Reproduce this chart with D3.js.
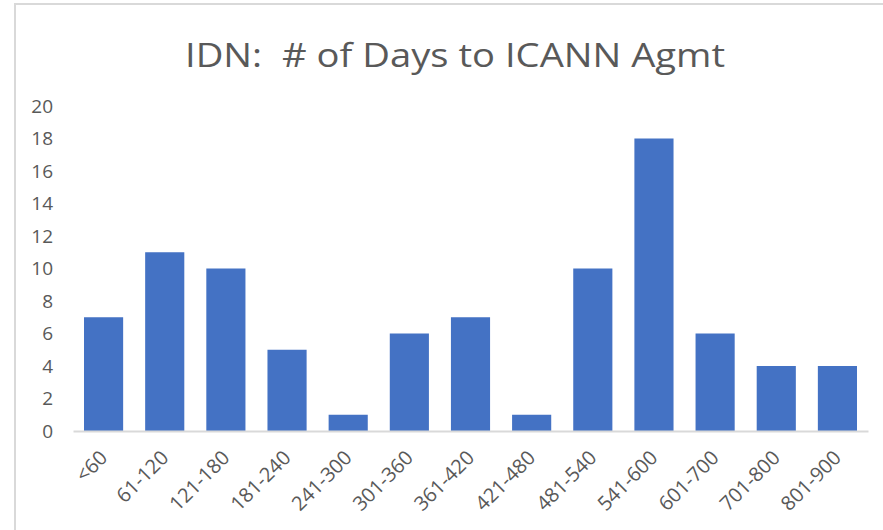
<!DOCTYPE html>
<html lang="en">
<head>
    <meta charset="UTF-8">
    <title>IDN: # of Days to ICANN Agmt</title>
    <script src="https://d3js.org/d3.v7.min.js"></script>
    <style type="text/css">
        body { margin: 0; background: #fff; }
        svg text { font-family: 'Open Sans', sans-serif; fill: #595959; }
    </style>
</head>
<body>
    <svg width="883" height="530"></svg>

    <script type="text/javascript">
        var categories = ["<60", "61-120", "121-180", "181-240", "241-300", "301-360", "361-420",
            "421-480", "481-540", "541-600", "601-700", "701-800", "801-900"];
        var counts = [7, 11, 10, 5, 1, 6, 7, 1, 10, 18, 6, 4, 4];
        var yTicks = [0, 2, 4, 6, 8, 10, 12, 14, 16, 18, 20];

        var svg = d3.select("svg"),
            margin = {top: 106, left: 73, right: 15, bottom: 99},
            width = 883 - margin.left - margin.right,
            height = 530 - margin.top - margin.bottom;

        // chart frame (top and left edges visible)
        svg.append("line").attr("x1", 15).attr("x2", 883).attr("y1", 4).attr("y2", 4)
            .attr("stroke", "#d9d9d9").attr("stroke-width", 2);
        svg.append("line").attr("x1", 15).attr("x2", 15).attr("y1", 3).attr("y2", 530)
            .attr("stroke", "#d9d9d9").attr("stroke-width", 2);

        svg.append("text")
            .attr("x", 185).attr("y", 67)
            .attr("textLength", 540)
            .attr("lengthAdjust", "spacingAndGlyphs")
            .style("font-size", "32px")
            .text("IDN:\u00a0\u00a0# of Days to ICANN Agmt");

        var g = svg.append("g").attr("transform", "translate(" + margin.left + "," + margin.top + ")");

        var x = d3.scaleBand().domain(categories).range([0, width]).paddingInner(0.36).paddingOuter(0.18);
        var y = d3.scaleLinear().domain([0, 20]).range([height, 0]);

        g.selectAll(".bar")
            .data(counts)
            .enter().append("rect")
            .attr("class", "bar")
            .attr("x", function(d, i) { return x(categories[i]); })
            .attr("y", function(d) { return y(d); })
            .attr("width", x.bandwidth())
            .attr("height", function(d) { return height - y(d); })
            .attr("fill", "#4472c4");

        var yAxis = g.append("g")
            .call(d3.axisLeft(y).tickValues(yTicks).tickSize(0).tickPadding(20));
        yAxis.select(".domain").remove();
        yAxis.selectAll("text").style("font-size", "19px").attr("fill", "#595959");

        var xAxis = g.append("g")
            .attr("transform", "translate(0," + height + ")")
            .call(d3.axisBottom(x).tickSize(0).tickPadding(0));
        xAxis.select(".domain").attr("stroke", "#d9d9d9").attr("stroke-width", 2);
        xAxis.selectAll("text")
            .style("font-size", "20px")
            .attr("fill", "#595959")
            .attr("text-anchor", "end")
            .attr("dy", null)
            .attr("transform", "translate(5,28) rotate(-45)");
    </script>
</body>
</html>
